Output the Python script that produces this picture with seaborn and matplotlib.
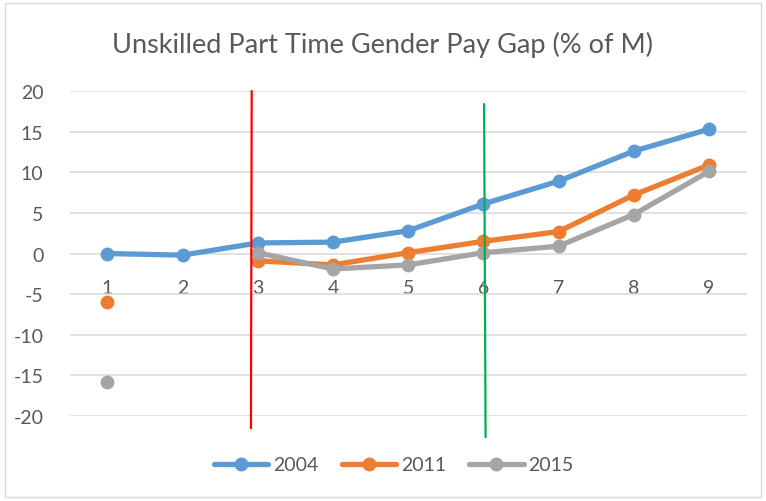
import numpy as np
import pandas as pd
import matplotlib.pyplot as plt
import seaborn as sns
from matplotlib.lines import Line2D
from matplotlib.patches import Rectangle

# category positions on the x axis
categories = [1, 2, 3, 4, 5, 6, 7, 8, 9]

# pay gap values per year (NaN = no value, line is broken there)
gap_2004 = [0.0, -0.2, 1.3, 1.4, 2.8, 6.1, 8.9, 12.6, 15.3]
gap_2011 = [-6.0, np.nan, -0.9, -1.4, 0.1, 1.5, 2.7, 7.2, 10.9]
gap_2015 = [-15.8, np.nan, 0.1, -1.9, -1.4, 0.1, 0.9, 4.8, 10.1]

years = ["2004", "2011", "2015"]
colors = ["#5B9BD5", "#ED7D31", "#A5A5A5"]
y_ticks = [20, 15, 10, 5, 0, -5, -10, -15, -20]

# marker lines (x, y_top, y_bottom)
red_line = ([2.92, 2.91], [20.0, -21.5])
green_line = ([6.01, 6.03], [18.4, -22.6])

# build long table, a new segment starts after each gap
rows = []
for year, vals in zip(years, [gap_2004, gap_2011, gap_2015]):
    seg = 0
    for c, v in zip(categories, vals):
        if np.isnan(v):
            seg += 1
            continue
        rows.append({"cat": c, "gap": v, "year": year, "seg": seg})
df = pd.DataFrame(rows)

sns.set_style("white")
plt.rcParams["font.family"] = ["Lato", "DejaVu Sans"]

fig = plt.figure(figsize=(7.66, 5.02), dpi=100)
ax = fig.add_axes([0.091, 0.1693, 0.8836, 0.6474])

sns.lineplot(data=df, x="cat", y="gap", hue="year", units="seg",
             estimator=None, palette=colors, hue_order=years,
             marker="o", markersize=10, markeredgewidth=0, linewidth=3.8,
             legend=False, ax=ax, zorder=3)

ax.plot(*red_line, color="#FF0000", lw=1.6, zorder=5, clip_on=False)
ax.plot(*green_line, color="#00B050", lw=1.6, zorder=5, clip_on=False)

ax.set_xlim(0.5, 9.5)
ax.set_ylim(-20, 20)
ax.set_yticks(y_ticks)
ax.set_yticklabels([str(t) for t in y_ticks])
ax.set_xticks(categories)
ax.set_xticklabels([str(c) for c in categories])
ax.grid(axis="y", color="#D9D9D9", lw=1.1)
ax.set_axisbelow(True)
for s in ax.spines.values():
    s.set_visible(False)
ax.spines["bottom"].set_position(("data", 0))
ax.tick_params(axis="x", length=0, pad=18, labelsize=14, colors="#595959")
ax.tick_params(axis="y", length=0, pad=19, labelsize=14, colors="#595959")
ax.set_xlabel("")
ax.set_ylabel("")

fig.text(0.5, 0.91, "Unskilled Part Time Gender Pay Gap (% of M)",
         ha="center", va="center", fontsize=19.5, color="#595959")

handles = [Line2D([0], [0], color=c, lw=3.8, marker="o", markersize=10,
                  markeredgewidth=0) for c in colors]
fig.legend(handles, years, loc="center", bbox_to_anchor=(0.514, 0.072),
           ncol=3, frameon=False, fontsize=14, handlelength=2.8,
           columnspacing=1.2, handletextpad=0.25, labelcolor="#595959")

fig.patches.append(Rectangle((0.006, 0.008), 0.988, 0.984,
                             transform=fig.transFigure, fill=False,
                             edgecolor="#D9D9D9", lw=1))

fig.savefig("out.png", dpi=100)
